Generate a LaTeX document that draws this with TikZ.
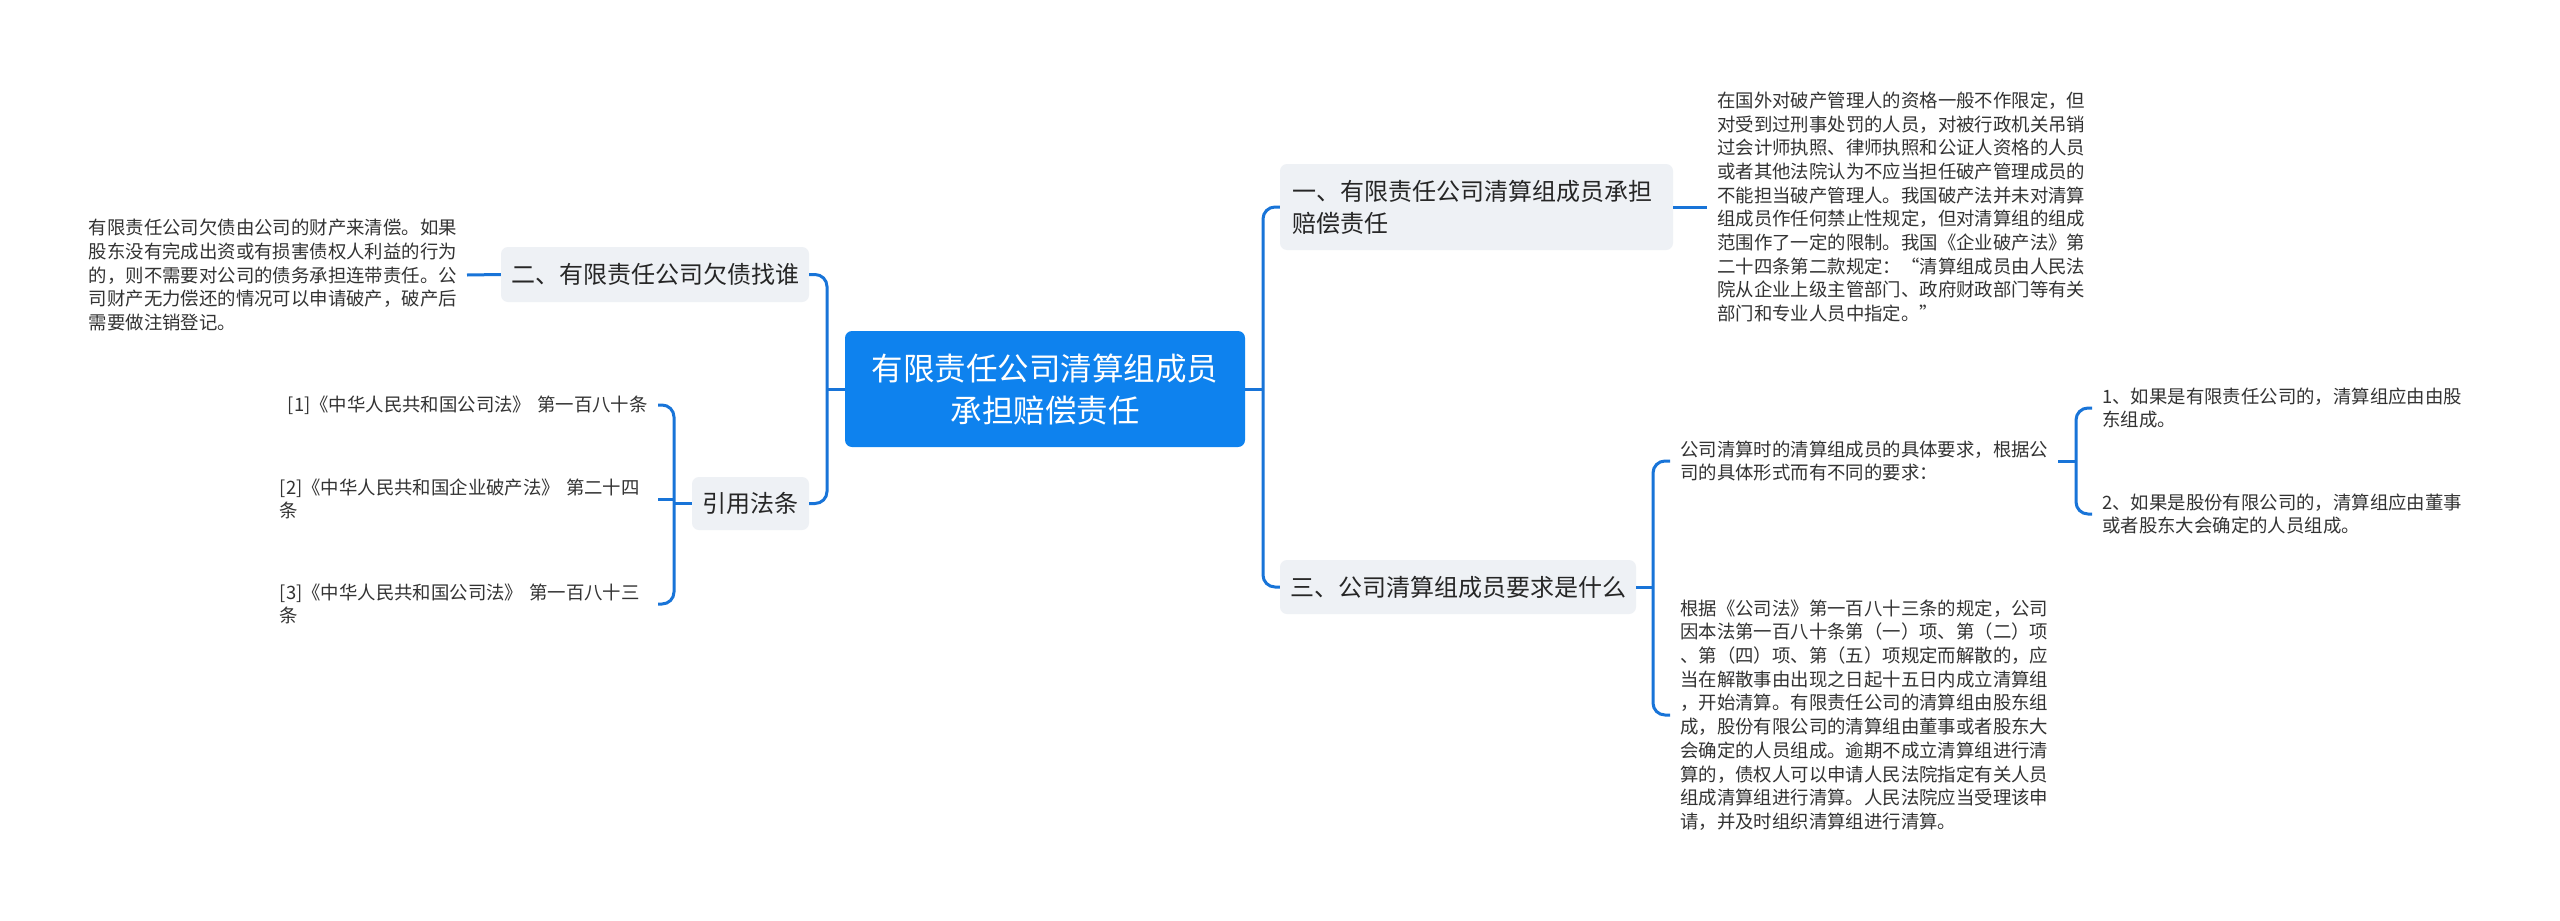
\documentclass[tikz,border=0pt]{standalone}
\usepackage{fontspec}
\setmainfont{Noto Sans CJK SC}
\definecolor{mainblue}{RGB}{14,130,238}
\definecolor{lineblue}{RGB}{24,116,216}
\definecolor{boxgray}{RGB}{238,241,245}
\definecolor{txt}{RGB}{51,51,51}
\definecolor{boxtxt}{RGB}{38,38,38}
\tikzset{
  conn/.style={draw=lineblue, line width=3pt, rounded corners=12pt},
  rootbox/.style={fill=mainblue, rounded corners=7pt, text=white, align=center,
    font=\fontsize{31.5}{42}\selectfont, inner sep=0pt},
  topicbox/.style={fill=boxgray, rounded corners=7pt, text=boxtxt,
    font=\fontsize{24}{32}\selectfont, inner sep=0pt},
  leaf/.style={text=txt, font=\fontsize{18.4}{23.7}\selectfont, align=left,
    inner xsep=10pt, inner ysep=1pt},
}
\begin{document}
\begin{tikzpicture}[x=1pt,y=-1pt]
\fill[white] (0,0) rectangle (2560,921);
\useasboundingbox (0,0) rectangle (2560,921);

% trunk x positions
\coordinate (lt) at (827,0);
\coordinate (rt) at (1263,0);
\coordinate (ct) at (674,0);
\coordinate (t3) at (1653,0);
\coordinate (t31) at (2076,0);

% root
\node[rootbox, minimum width=400pt, minimum height=116pt] (root) at (1045,389)
  {有限责任公司清算组成员\\承担赔偿责任};

% topics
\node[topicbox, text width=369pt, align=left, inner xsep=12pt, minimum height=86pt] (b1) at (1476.5,207)
  {一、有限责任公司清算组成员承担\\赔偿责任};
\node[topicbox, minimum width=356pt, minimum height=54pt] (b3) at (1458,587)
  {三、公司清算组成员要求是什么};
\node[topicbox, minimum width=308pt, minimum height=55pt] (b2) at (655,274.5)
  {二、有限责任公司欠债找谁};
\node[topicbox, minimum width=117pt, minimum height=53pt] (bcite) at (750.5,503.5)
  {引用法条};

% leaves right
\node[leaf, anchor=west] (t1) at (1707,207)
  {在国外对破产管理人的资格一般不作限定，但\\
   对受到过刑事处罚的人员，对被行政机关吊销\\
   过会计师执照、律师执照和公证人资格的人员\\
   或者其他法院认为不应当担任破产管理成员的\\
   不能担当破产管理人。我国破产法并未对清算\\
   组成员作任何禁止性规定，但对清算组的组成\\
   范围作了一定的限制。我国《企业破产法》第\\
   二十四条第二款规定：“清算组成员由人民法\\
   院从企业上级主管部门、政府财政部门等有关\\
   部门和专业人员中指定。”};
\node[leaf, anchor=west] (c31) at (1670,461)
  {公司清算时的清算组成员的具体要求，根据公\\司的具体形式而有不同的要求：};
\node[leaf, anchor=west] (c32) at (1670,715)
  {根据《公司法》第一百八十三条的规定，公司\\
   因本法第一百八十条第（一）项、第（二）项\\
   、第（四）项、第（五）项规定而解散的，应\\
   当在解散事由出现之日起十五日内成立清算组\\
   ，开始清算。有限责任公司的清算组由股东组\\
   成，股份有限公司的清算组由董事或者股东大\\
   会确定的人员组成。逾期不成立清算组进行清\\
   算的，债权人可以申请人民法院指定有关人员\\
   组成清算组进行清算。人民法院应当受理该申\\
   请，并及时组织清算组进行清算。};
\node[leaf, anchor=west] (c311) at (2092,408)
  {1、如果是有限责任公司的，清算组应由由股\\东组成。};
\node[leaf, anchor=west] (c312) at (2092,514)
  {2、如果是股份有限公司的，清算组应由董事\\或者股东大会确定的人员组成。};

% leaves left
\node[leaf, anchor=east] (t2) at (467,275)
  {有限责任公司欠债由公司的财产来清偿。如果\\
   股东没有完成出资或有损害债权人利益的行为\\
   的，则不需要对公司的债务承担连带责任。公\\
   司财产无力偿还的情况可以申请破产，破产后\\
   需要做注销登记。};
\node[leaf, anchor=east, text width=368pt, align=right] (r1) at (658,405)
  {[1]《中华人民共和国公司法》 第一百八十条};
\node[leaf, anchor=east, text width=368pt] (r2) at (658,499)
  {[2]《中华人民共和国企业破产法》 第二十四\\条};
\node[leaf, anchor=east, text width=368pt] (r3) at (658,604)
  {[3]《中华人民共和国公司法》 第一百八十三\\条};

% connectors right
\draw[conn] (root.east) -- (root.east -| rt);
\draw[conn] (b1.west) -| (rt |- b3.west) -- (b3.west);
\draw[conn] (b1.east) -- (t1.west);
\draw[conn] (b3.east) -- (b3.east -| t3);
\draw[conn] (c31.west) -| (t3 |- c32.west) -- (c32.west);
\draw[conn] (c31.east) -- (c31.east -| t31);
\draw[conn] (c311.west) -| (t31 |- c312.west) -- (c312.west);
% connectors left
\draw[conn] (root.west) -- (root.west -| lt);
\draw[conn] (b2.east) -| (lt |- bcite.east) -- (bcite.east);
\draw[conn] (b2.west) -- (t2.east);
\draw[conn] (bcite.west) -- (bcite.west -| ct);
\draw[conn] (r1.east) -| (ct |- r3.east) -- (r3.east);
\draw[conn] (r2.east) -- (r2.east -| ct);
\end{tikzpicture}
\end{document}
